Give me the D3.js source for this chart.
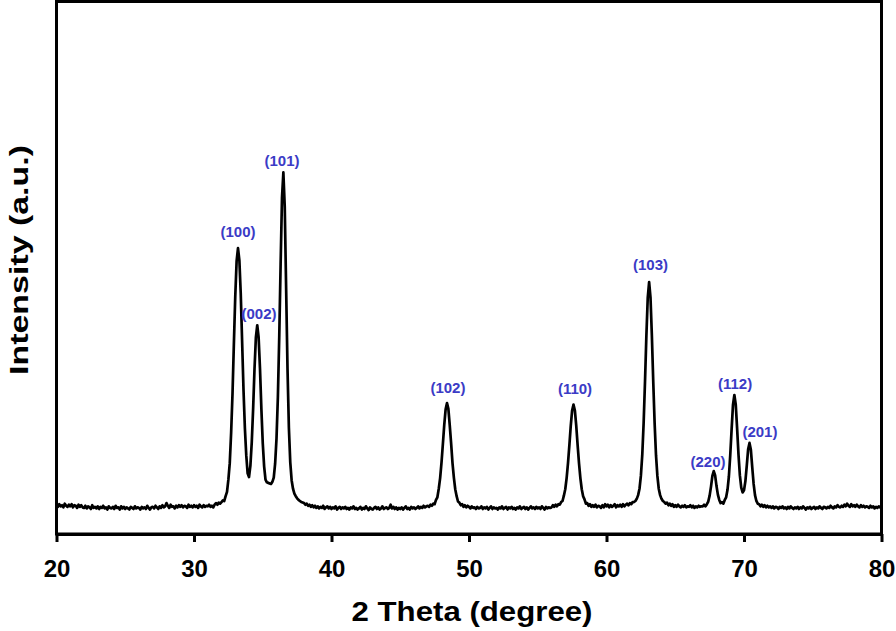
<!DOCTYPE html>
<html>
<head>
<meta charset="utf-8">
<script src="https://cdn.jsdelivr.net/npm/d3@7"></script>
<style>
  html, body { margin: 0; padding: 0; background: #fff; }
  svg { display: block; }
  text { font-family: "Liberation Sans", Arial, Helvetica, sans-serif; font-weight: bold; }
</style>
</head>
<body>
<svg id="chart" width="896" height="631"></svg>
<script>
// ---- Data ----
// XRD pattern: intensity sampled every 0.1 degree from 20.0 to 80.0 (2θ)
const thetaStart = 20;
const thetaStep = 0.1;
const intensity = [
  55,51,56,52,54,50,57,53,51,55,   // 20
  52,56,50,54,53,49,55,51,54,50,   // 21
  49,53,48,52,50,47,54,49,51,48,   // 22
  52,47,51,49,53,48,50,46,52,49,   // 23
  48,51,47,53,49,50,46,52,48,51,   // 24
  47,50,48,46,51,49,47,52,48,50,   // 25
  49,46,51,48,50,47,53,49,46,50,   // 26
  51,48,53,50,47,52,49,54,50,52,   // 27
  58,53,49,55,51,52,48,53,50,54,   // 28
  51,54,50,53,52,49,55,51,53,50,   // 29
  54,51,53,49,55,52,50,54,51,53,   // 30
  52,55,51,53,50,55,58,55,59,57,   // 31
  60,63,62,71,79,102,133,190,263,357, // 32
  446,513,537,514,451,361,271,199,148,114, // 33
  107,128,172,235,310,369,392,369,310,235, // 34
  171,127,102,97,96,95,94,98,106,132,      // 35
  179,257,371,507,632,679,614,462,311,200, // 36
  135,101,85,76,71,67,64,62,60,59,         // 37
  58,55,57,53,55,51,54,50,53,49,   // 38
  52,48,51,49,53,47,50,52,48,51,   // 39
  47,50,48,52,46,49,51,47,50,48,   // 40
  51,47,49,46,50,48,52,47,49,46,   // 41
  48,51,46,49,47,52,48,45,50,47,   // 42
  46,49,51,47,50,46,48,52,47,49,   // 43
  50,47,49,55,48,51,47,50,46,49,   // 44
  47,50,46,49,52,47,49,46,51,48,   // 45
  50,47,49,52,48,51,49,53,50,52,   // 46
  53,51,55,53,57,56,64,69,85,105,  // 47
  134,169,205,234,246,235,204,170,133,106, // 48
  84,71,61,59,54,56,51,54,50,53,   // 49
  51,48,52,49,50,47,51,48,49,52,   // 50
  47,50,48,51,46,49,52,47,50,48,   // 51
  49,46,50,48,52,47,49,51,46,50,   // 52
  48,51,47,49,46,50,48,52,47,49,   // 53
  51,47,50,46,49,52,48,50,47,51,   // 54
  48,50,47,52,49,46,51,48,50,49,   // 55
  50,54,51,55,52,56,55,60,62,72,   // 56
  84,105,133,167,203,232,243,232,203,167, // 57
  133,105,84,71,65,57,58,53,56,51, // 58
  54,51,55,50,53,52,49,54,50,56,   // 59
  52,55,50,54,51,53,56,50,54,52,   // 60
  55,51,56,52,55,57,54,58,56,60,   // 61
  60,62,66,73,85,109,148,208,286,372, // 62
  444,473,444,372,286,208,148,109,85,73, // 63
  66,62,60,57,59,54,57,53,56,51,   // 64
  54,51,55,52,50,53,51,54,50,52,   // 65
  51,54,50,53,49,52,50,53,51,52,   // 66
  52,55,52,56,61,72,89,109,118,110, // 67
  90,74,64,58,60,57,64,69,83,108,  // 68
  148,197,243,261,243,198,149,110,87,78, // 69
  82,99,128,159,171,158,125,94,73,62,    // 70
  57,56,52,55,51,54,50,53,50,52,   // 71
  49,52,48,51,50,47,51,49,52,48,   // 72
  50,47,51,48,52,49,47,50,48,51,   // 73
  47,50,48,52,49,46,50,48,51,47,   // 74
  49,51,47,50,48,52,49,47,51,50,   // 75
  48,51,49,53,50,48,52,50,54,51,   // 76
  50,53,51,55,52,57,53,51,56,52,   // 77
  54,51,55,52,50,54,51,53,50,52,   // 78
  51,49,53,50,52,48,51,49,52,50,   // 79
  51                               // 80
];
const twoTheta = intensity.map((_, i) => +(thetaStart + i * thetaStep).toFixed(1));

// Peak (hkl) labels and where they sit, in data units
const peakLabels     = ["(100)", "(002)", "(101)", "(102)", "(110)", "(103)", "(220)", "(112)", "(201)"];
const labelTheta     = [33.2, 34.73, 36.4, 48.47, 57.71, 63.2, 67.38, 69.35, 71.16];
const labelIntensity = [558, 404, 692, 265, 263, 496, 126, 273, 182];

// Axis
const xDomain = [20, 80];
const xTicks = [20, 30, 40, 50, 60, 70, 80];
const yDomain = [0, 1000];
const xTitle = "2 Theta (degree)";
const yTitle = "Intensity (a.u.)";

// ---- Layout ----
const svg = d3.select("#chart");
const mLeft = 56.5, mRight = 881.5, mTop = 1.5, mBottom = 534;

const x = d3.scaleLinear().domain(xDomain).range([mLeft, mRight]);
const y = d3.scaleLinear().domain(yDomain).range([mBottom, mTop]);

svg.append("defs").append("clipPath").attr("id", "plotclip")
  .append("rect").attr("x", mLeft).attr("y", mTop).attr("width", mRight - mLeft).attr("height", mBottom - mTop);

// Pattern line
const data = twoTheta.map((t, i) => [t, intensity[i]]);
const line = d3.line().x(d => x(d[0])).y(d => y(d[1]));
svg.append("path")
  .attr("clip-path", "url(#plotclip)")
  .attr("d", line(data))
  .attr("fill", "none")
  .attr("stroke", "#000")
  .attr("stroke-width", 2.7)
  .attr("stroke-linejoin", "round");

// Frame
svg.append("rect")
  .attr("x", mLeft).attr("y", mTop)
  .attr("width", mRight - mLeft).attr("height", mBottom - mTop)
  .attr("fill", "none").attr("stroke", "#000").attr("stroke-width", 3);

// X axis
const xAxis = d3.axisBottom(x).tickValues(xTicks).tickSizeInner(8).tickSizeOuter(0).tickFormat(d3.format("d"));
const gx = svg.append("g").attr("transform", `translate(0,${mBottom})`).call(xAxis);
gx.select(".domain").attr("stroke", "#000").attr("stroke-width", 3);
gx.selectAll(".tick line").attr("stroke", "#000").attr("stroke-width", 3);
gx.selectAll(".tick text")
  .attr("y", 43).attr("dy", 0)
  .attr("fill", "#000")
  .style("font-size", "24px")
  .style("font-weight", "bold")
  .style("font-family", '"Liberation Sans", Arial, sans-serif');

// Axis titles
svg.append("text")
  .attr("x", 472).attr("y", 621)
  .attr("text-anchor", "middle")
  .attr("textLength", 241).attr("lengthAdjust", "spacingAndGlyphs")
  .style("font-size", "28px")
  .text(xTitle);

svg.append("text")
  .attr("transform", "translate(28,260) rotate(-90)")
  .attr("text-anchor", "middle")
  .attr("textLength", 230).attr("lengthAdjust", "spacingAndGlyphs")
  .style("font-size", "26px")
  .text(yTitle);

// Peak labels
svg.append("g").selectAll("text")
  .data(peakLabels)
  .join("text")
  .attr("x", (d, i) => x(labelTheta[i]))
  .attr("y", (d, i) => y(labelIntensity[i]))
  .attr("text-anchor", "middle")
  .attr("fill", "#3b3bc6")
  .style("font-size", "15px")
  .text(d => d);
</script>
</body>
</html>
